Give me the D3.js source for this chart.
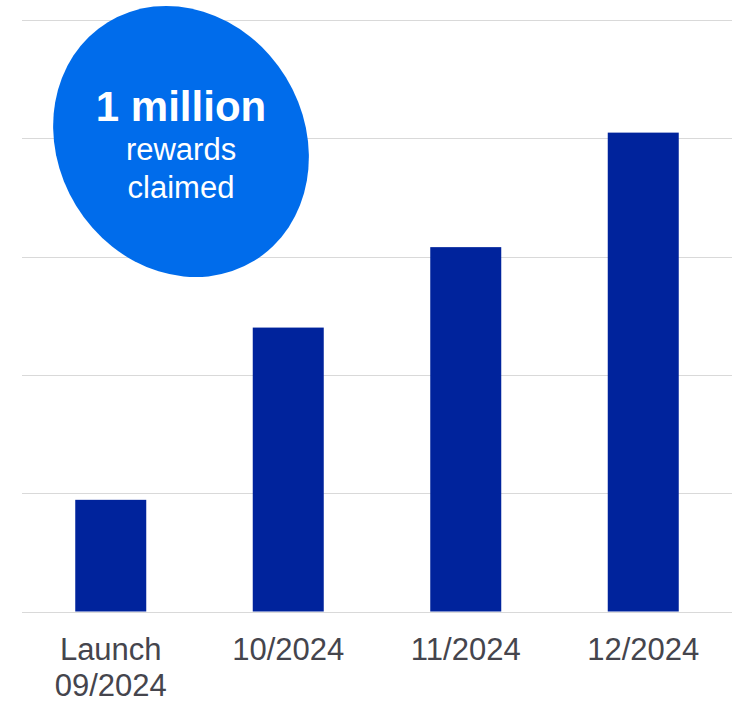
<!DOCTYPE html>
<html>
<head>
<meta charset="utf-8">
<script src="https://cdn.jsdelivr.net/npm/d3@7"></script>
<style>
  body { margin: 0; background: #fff; }
  text { font-family: "Liberation Sans", Arial, sans-serif; }
</style>
</head>
<body>
<div id="chart"></div>
<script>
// rewards claimed, thousands
var categories = ["Launch\n09/2024", "10/2024", "11/2024", "12/2024"];
var values = [236, 600, 770, 1012];
var gridTicks = [0, 250, 500, 750, 1000, 1250];
var calloutLines = ["1 million", "rewards", "claimed"];

var W = 743, H = 701;
var svg = d3.select("#chart").append("svg")
    .attr("width", W)
    .attr("height", H);

var x = d3.scaleBand()
    .domain(categories)
    .range([22, 732])
    .paddingInner(0.6)
    .paddingOuter(0.3);

var y = d3.scaleLinear()
    .domain([0, 1250])
    .range([611.5, 20]);

// gridlines
svg.append("g").selectAll("line")
    .data(gridTicks)
    .join("line")
    .attr("x1", 22).attr("x2", 732)
    .attr("y1", function(d) { return Math.round(y(d)) + 0.5; })
    .attr("y2", function(d) { return Math.round(y(d)) + 0.5; })
    .attr("stroke", "#d9d9d9")
    .attr("stroke-width", 1);

// bars
svg.append("g").selectAll("rect")
    .data(values)
    .join("rect")
    .attr("x", function(d, i) { return x(categories[i]); })
    .attr("width", x.bandwidth())
    .attr("y", function(d) { return y(d); })
    .attr("height", function(d) { return y(0) - y(d); })
    .attr("fill", "#00239c");

// category labels
var lbl = svg.append("g").selectAll("text")
    .data(categories)
    .join("text")
    .attr("x", function(d) { return x(d) + x.bandwidth() / 2; })
    .attr("y", 660)
    .attr("text-anchor", "middle")
    .attr("fill", "#45454d")
    .style("font-size", "31px");
lbl.selectAll("tspan")
    .data(function(d) { return d.split("\n"); })
    .join("tspan")
    .attr("x", function() { return this.parentNode.getAttribute("x"); })
    .attr("dy", function(d, i) { return i ? 36 : 0; })
    .text(function(d) { return d; });

// callout blob
var cx = 181, cy = 141.5;
var callout = svg.append("g").attr("transform", "translate(" + cx + "," + cy + ")");
callout.append("ellipse")
    .attr("rx", 140)
    .attr("ry", 123)
    .attr("transform", "rotate(58.5)")
    .attr("fill", "#006ceb");
callout.selectAll("text")
    .data(calloutLines)
    .join("text")
    .attr("x", 0)
    .attr("y", function(d, i) { return [-21, 18.5, 56.5][i]; })
    .attr("text-anchor", "middle")
    .attr("fill", "#fff")
    .style("font-size", function(d, i) { return i ? "31px" : "42px"; })
    .style("font-weight", function(d, i) { return i ? "normal" : "bold"; })
    .text(function(d) { return d; });
</script>
</body>
</html>
